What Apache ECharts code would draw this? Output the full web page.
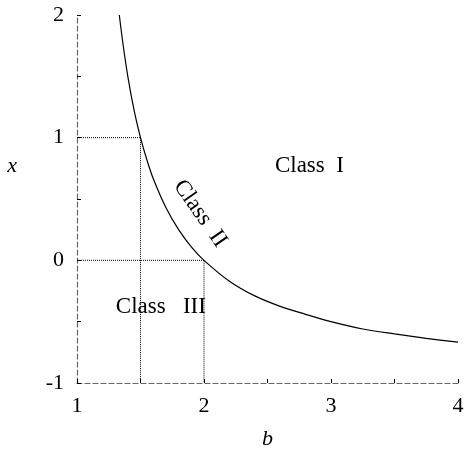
<!DOCTYPE html>
<html>
<head>
<meta charset="utf-8">
<script src="https://cdn.jsdelivr.net/npm/echarts@6/dist/echarts.min.js"></script>
<style>
  html, body { margin: 0; padding: 0; background: #fff; }
  #chart { width: 466px; height: 450px; }
</style>
</head>
<body>
<div id="chart"></div>
<script>
// boundary curve
var curveB = [1.333, 1.36, 1.4, 1.45, 1.5, 1.55, 1.6, 1.7, 1.8, 1.9, 2, 2.2, 2.4, 2.6, 2.8, 3, 3.25, 3.5, 3.75, 4];
var curveX = [2, 1.78, 1.5, 1.22, 1, 0.82, 0.667, 0.43, 0.25, 0.11, 0, -0.17, -0.29, -0.375, -0.44, -0.5, -0.56, -0.6, -0.636, -0.667];

// dotted guide lines
var guideOne = [[1, 1], [1.5, 1], [1.5, -1]];
var guideZero = [[1, 0], [2, 0], [2, -1]];

// region labels
var classNames = ['Class  I', 'Class  II', 'Class   III'];
var classPos = [[2.83, 0.77], [1.97, 0.38], [1.66, -0.38]];
var classRotate = [0, -55, 0];

var font = 'Liberation Serif, Times New Roman, serif';

var chart = echarts.init(document.getElementById('chart'));

var curveData = curveB.map(function (b, i) { return [b, curveX[i]]; });
var labelData = classNames.map(function (name, i) {
  return {
    value: classPos[i],
    label: { formatter: name, rotate: classRotate[i] }
  };
});

var dottedStyle = { color: '#000', width: 1, type: [1, 1] };

chart.setOption({
  animation: false,
  grid: { left: 77, right: 8, top: 15, bottom: 67, outerBoundsMode: 'none', containLabel: false },
  xAxis: {
    type: 'value',
    min: 1, max: 4, interval: 0.5,
    name: 'b',
    nameLocation: 'middle',
    nameGap: 45,
    nameTextStyle: { fontFamily: font, fontStyle: 'italic', fontSize: 22, color: '#000' },
    axisLine: { show: true, onZero: false, lineStyle: { color: '#666', width: 1.2, type: [5, 3] } },
    axisTick: { show: true, inside: true, length: 4, lineStyle: { color: '#000' } },
    axisLabel: {
      fontFamily: font, fontSize: 22, color: '#000', margin: 12,
      formatter: function (v) { return v % 1 === 0 ? String(v) : ''; }
    },
    splitLine: { show: false }
  },
  yAxis: {
    type: 'value',
    min: -1, max: 2, interval: 0.5,
    // trailing blank lines lift the name above the middle of the axis
    name: 'x\n\n\n',
    nameLocation: 'middle',
    nameRotate: 0,
    nameGap: 60,
    nameTextStyle: { fontFamily: font, fontStyle: 'italic', fontSize: 22, lineHeight: 22, color: '#000' },
    axisLine: { show: true, onZero: false, lineStyle: { color: '#666', width: 1.2, type: [5, 3] } },
    axisTick: { show: true, inside: true, length: 4, lineStyle: { color: '#000' } },
    axisLabel: {
      fontFamily: font, fontSize: 22, color: '#000', margin: 13,
      formatter: function (v) { return v % 1 === 0 ? String(v) : ''; }
    },
    splitLine: { show: false }
  },
  series: [
    {
      type: 'line',
      data: curveData,
      smooth: 0.3,
      showSymbol: false,
      lineStyle: { color: '#000', width: 1.2 }
    },
    {
      type: 'line',
      data: guideOne,
      showSymbol: false,
      lineStyle: dottedStyle
    },
    {
      type: 'line',
      data: guideZero,
      showSymbol: false,
      lineStyle: dottedStyle
    },
    {
      type: 'scatter',
      data: labelData,
      symbolSize: 0,
      itemStyle: { opacity: 1 },
      label: {
        show: true,
        position: 'inside',
        fontFamily: font,
        fontSize: 23,
        color: '#000'
      }
    }
  ]
});
</script>
</body>
</html>
